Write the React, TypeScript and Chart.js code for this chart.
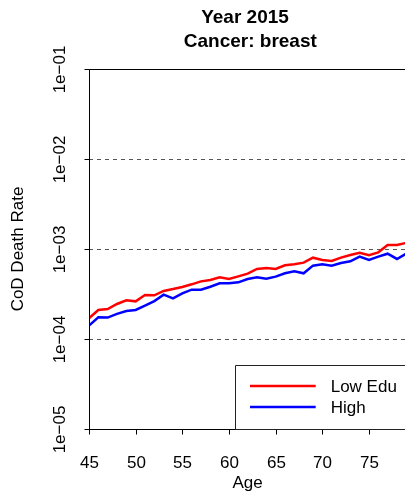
import React, { useEffect, useRef } from "react";
import { Chart, registerables } from "chart.js";

Chart.register(...registerables);

const ages = [45, 46, 47, 48, 49, 50, 51, 52, 53, 54, 55, 56, 57, 58, 59, 60, 61, 62, 63, 64, 65, 66, 67, 68, 69, 70, 71, 72, 73, 74, 75, 76, 77, 78, 79];
const lowEdu = [1.70e-4, 2.10e-4, 2.15e-4, 2.45e-4, 2.69e-4, 2.62e-4, 3.08e-4, 3.06e-4, 3.42e-4, 3.59e-4, 3.79e-4, 4.05e-4, 4.37e-4, 4.53e-4, 4.85e-4, 4.64e-4, 4.97e-4, 5.32e-4, 6.00e-4, 6.15e-4, 6.00e-4, 6.59e-4, 6.76e-4, 7.05e-4, 8.01e-4, 7.55e-4, 7.36e-4, 8.01e-4, 8.58e-4, 9.10e-4, 8.51e-4, 9.18e-4, 1.107e-3, 1.107e-3, 1.17e-3];
const highEdu = [1.41e-4, 1.74e-4, 1.73e-4, 1.90e-4, 2.05e-4, 2.10e-4, 2.35e-4, 2.64e-4, 3.11e-4, 2.83e-4, 3.21e-4, 3.53e-4, 3.53e-4, 3.81e-4, 4.16e-4, 4.16e-4, 4.26e-4, 4.64e-4, 4.85e-4, 4.68e-4, 4.93e-4, 5.37e-4, 5.65e-4, 5.37e-4, 6.53e-4, 6.76e-4, 6.53e-4, 6.98e-4, 7.30e-4, 8.22e-4, 7.55e-4, 8.22e-4, 8.87e-4, 7.75e-4, 8.9e-4];
const xTickValues = [45, 50, 55, 60, 65, 70, 75];
const yTickValues = [1e-5, 1e-4, 1e-3, 1e-2, 1e-1];
const yTickLabels = ["1e\u221205", "1e\u221204", "1e\u221203", "1e\u221202", "1e\u221201"];
const seriesNames = ["Low Edu", "High"];
const seriesColors = ["#FF0000", "#0000FF"];
const titleLines = ["Year 2015 ", " Cancer: breast"];
const xTitle = "Age";
const yTitle = "CoD Death Rate";

const FONT = '"Liberation Sans", Arial, Helvetica, sans-serif';

const rPlugin = {
  id: "rstyle",
  beforeDatasetsDraw(chart: any) {
    const { ctx, chartArea } = chart;
    const y = chart.scales.y;
    ctx.save();
    ctx.strokeStyle = "#555555";
    ctx.lineWidth = 1;
    ctx.setLineDash([4, 4]);
    yTickValues.forEach((v) => {
      const py = Math.round(y.getPixelForValue(v)) + 0.5;
      ctx.beginPath();
      ctx.moveTo(chartArea.left, py);
      ctx.lineTo(chartArea.right, py);
      ctx.stroke();
    });
    ctx.restore();
  },
  afterDraw(chart: any) {
    const { ctx, chartArea } = chart;
    const x = chart.scales.x;
    const y = chart.scales.y;
    const L = Math.round(chartArea.left) + 0.5;
    const T = Math.round(chartArea.top) + 0.5;
    const B = Math.round(chartArea.bottom) + 0.5;
    const R = chartArea.right;
    ctx.save();
    // box
    ctx.strokeStyle = "#000";
    ctx.lineWidth = 1;
    ctx.setLineDash([]);
    ctx.beginPath();
    ctx.rect(L, T, R - L, B - T);
    ctx.stroke();
    // x ticks
    ctx.fillStyle = "#000";
    ctx.font = `17px ${FONT}`;
    ctx.textAlign = "center";
    ctx.textBaseline = "alphabetic";
    xTickValues.forEach((v) => {
      const px = Math.round(x.getPixelForValue(v)) + 0.5;
      ctx.beginPath();
      ctx.moveTo(px, B);
      ctx.lineTo(px, B + 5);
      ctx.stroke();
      ctx.fillText(String(v), px, 467.5);
    });
    // y ticks
    yTickValues.forEach((v, i) => {
      const py = Math.round(y.getPixelForValue(v)) + 0.5;
      ctx.beginPath();
      ctx.moveTo(L - 5, py);
      ctx.lineTo(L, py);
      ctx.stroke();
      ctx.save();
      ctx.translate(65, py);
      ctx.rotate(-Math.PI / 2);
      ctx.fillText(yTickLabels[i], 0, 0);
      ctx.restore();
    });
    // axis titles
    const cx = (chartArea.left + chartArea.right) / 2;
    const cy = (chartArea.top + chartArea.bottom) / 2;
    ctx.fillText(xTitle, cx, 487.5);
    ctx.save();
    ctx.translate(23, cy);
    ctx.rotate(-Math.PI / 2);
    ctx.fillText(yTitle, 0, 0);
    ctx.restore();
    // title
    ctx.font = `bold 19px ${FONT}`;
    ctx.textAlign = "left";
    const baselines = [23.3, 47.3];
    titleLines.forEach((t, i) => {
      const w = ctx.measureText(t).width;
      ctx.fillText(t, cx - w / 2, baselines[i]);
    });
    // legend
    const lw = 171.6;
    const lh = 64;
    const lx = R - lw;
    const ly = chartArea.bottom - lh;
    ctx.fillStyle = "#fff";
    ctx.fillRect(lx, ly, lw, lh);
    ctx.strokeStyle = "#222";
    ctx.lineWidth = 1;
    ctx.beginPath();
    ctx.rect(Math.round(lx) + 0.5, Math.round(ly) + 0.5, lw, lh);
    ctx.stroke();
    ctx.font = `17px ${FONT}`;
    ctx.textBaseline = "middle";
    ctx.fillStyle = "#000";
    seriesNames.forEach((n, i) => {
      const rowY = ly + 21 + i * 21;
      ctx.strokeStyle = seriesColors[i];
      ctx.lineWidth = 2.5;
      ctx.beginPath();
      ctx.moveTo(lx + 15.3, rowY);
      ctx.lineTo(lx + 81, rowY);
      ctx.stroke();
      ctx.fillText(n, lx + 96, rowY + 1);
    });
    ctx.restore();
  },
};

export default function App() {
  const canvasRef = useRef<HTMLCanvasElement | null>(null);

  useEffect(() => {
    const canvas = canvasRef.current;
    if (!canvas) return;
    const chart = new Chart(canvas, {
      type: "line",
      data: {
        datasets: [
          {
            label: seriesNames[0],
            data: ages.map((a, i) => ({ x: a, y: lowEdu[i] })),
            borderColor: seriesColors[0],
            borderWidth: 2.5,
            pointRadius: 0,
            tension: 0,
            fill: false,
          },
          {
            label: seriesNames[1],
            data: ages.map((a, i) => ({ x: a, y: highEdu[i] })),
            borderColor: seriesColors[1],
            borderWidth: 2.5,
            pointRadius: 0,
            tension: 0,
            fill: false,
          },
        ],
      },
      options: {
        animation: false,
        responsive: false,
        devicePixelRatio: 1,
        layout: { padding: { top: 69, right: 3.7, left: 0, bottom: 0 } },
        plugins: {
          legend: { display: false },
          title: { display: false },
          tooltip: { enabled: false },
        },
        scales: {
          x: {
            type: "linear",
            min: 45,
            max: 79,
            grid: { display: false },
            border: { display: false },
            ticks: { display: false },
            afterBuildTicks: (s: any) => {
              s.ticks = xTickValues.map((v) => ({ value: v }));
            },
            afterFit: (s: any) => {
              s.height = 62;
            },
          },
          y: {
            type: "logarithmic",
            min: 1e-5,
            max: 1e-1,
            grid: { display: false },
            border: { display: false },
            ticks: { display: false },
            afterBuildTicks: (s: any) => {
              s.ticks = yTickValues.map((v) => ({ value: v }));
            },
            afterFit: (s: any) => {
              s.width = 89;
            },
          },
        },
      },
      plugins: [rPlugin],
    });
    return () => chart.destroy();
  }, []);

  return (
    <div style={{ position: "fixed", left: 0, top: 0, width: 405, height: 491, overflow: "hidden", background: "#fff" }}>
      <canvas ref={canvasRef} width={410} height={491} style={{ display: "block", width: 410, height: 491 }} />
    </div>
  );
}
